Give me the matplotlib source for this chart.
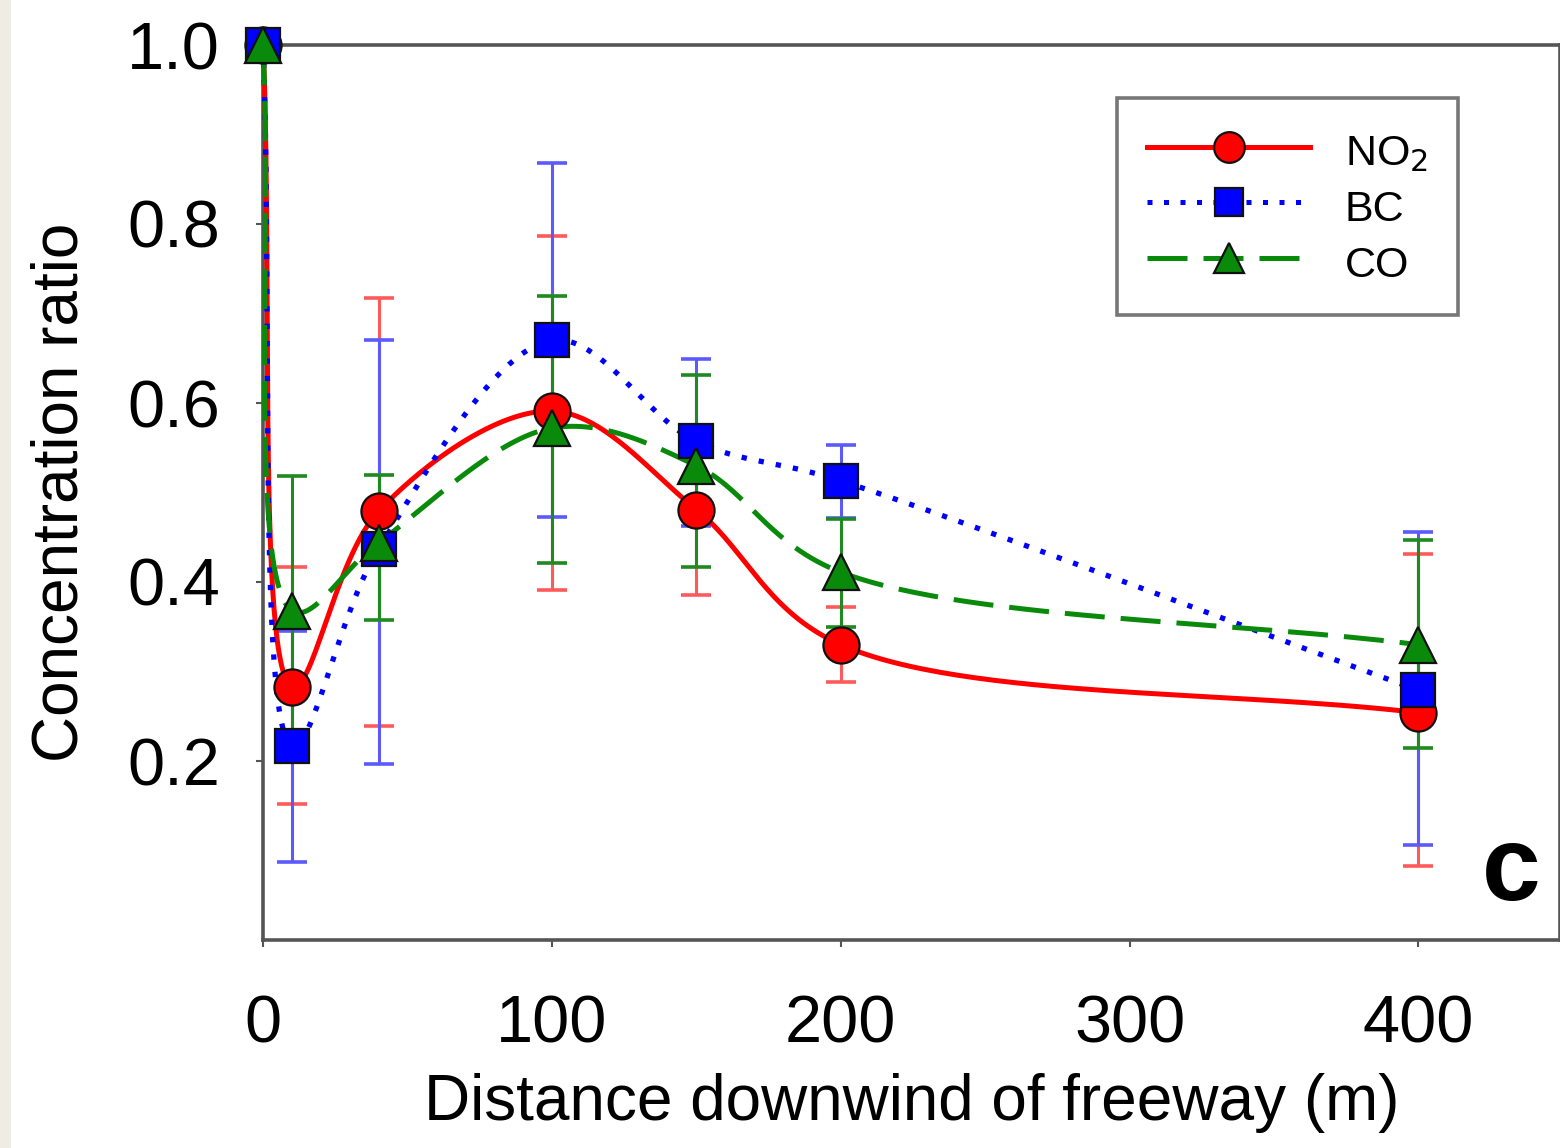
import numpy as np
import matplotlib
matplotlib.use("Agg")
import matplotlib.pyplot as plt
from matplotlib.patches import Rectangle

plt.rcParams['font.family'] = ['Liberation Sans', 'DejaVu Sans']

# ---- data ----
distance = [0, 10, 40, 100, 150, 200, 400]

no2 = [1.0, 0.283, 0.479, 0.591, 0.481, 0.330, 0.254]
no2_hi = [1.0, 0.417, 0.717, 0.787, 0.575, 0.372, 0.431]
no2_lo = [1.0, 0.152, 0.239, 0.391, 0.386, 0.288, 0.083]

bc = [1.0, 0.217, 0.437, 0.670, 0.557, 0.513, 0.279]
bc_hi = [1.0, 0.345, 0.670, 0.868, 0.649, 0.553, 0.456]
bc_lo = [1.0, 0.087, 0.197, 0.473, 0.463, 0.472, 0.106]

co = [1.0, 0.368, 0.444, 0.572, 0.530, 0.411, 0.330]
co_hi = [1.0, 0.518, 0.520, 0.720, 0.631, 0.470, 0.447]
co_lo = [1.0, 0.212, 0.358, 0.421, 0.417, 0.350, 0.214]

xticks = [0, 100, 200, 300, 400]
yticks = [0.2, 0.4, 0.6, 0.8, 1.0]
ytick_labels = ["0.2", "0.4", "0.6", "0.8", "1.0"]

W, H = 1560, 1148
XLIM = (0, 449)
YLIM = (0, 1.0)
AX_RECT = [263 / W, 1 - 940 / H, 1 - 263 / W, (940 - 45) / H]


def smooth_path(x, y, alpha=0.45, n=60):
    """Centripetal Catmull-Rom curve through the measured points,
    computed in screen-proportional space so the shape follows the picture."""
    sx = (AX_RECT[2] * W) / (XLIM[1] - XLIM[0])
    sy = (AX_RECT[3] * H) / (YLIM[1] - YLIM[0])
    P = np.column_stack([np.asarray(x, float) * sx, np.asarray(y, float) * sy])
    P = np.vstack([2 * P[0] - P[1], P, 2 * P[-1] - P[-2]])
    out = []
    for i in range(1, len(P) - 2):
        p0, p1, p2, p3 = P[i - 1], P[i], P[i + 1], P[i + 2]
        t0 = 0.0
        t1 = t0 + np.linalg.norm(p1 - p0) ** alpha
        t2 = t1 + np.linalg.norm(p2 - p1) ** alpha
        t3 = t2 + np.linalg.norm(p3 - p2) ** alpha
        t = np.linspace(t1, t2, n)[:, None]
        a1 = (t1 - t) / (t1 - t0) * p0 + (t - t0) / (t1 - t0) * p1
        a2 = (t2 - t) / (t2 - t1) * p1 + (t - t1) / (t2 - t1) * p2
        a3 = (t3 - t) / (t3 - t2) * p2 + (t - t2) / (t3 - t2) * p3
        b1 = (t2 - t) / (t2 - t0) * a1 + (t - t0) / (t2 - t0) * a2
        b2 = (t3 - t) / (t3 - t1) * a2 + (t - t1) / (t3 - t1) * a3
        c = (t2 - t) / (t2 - t1) * b1 + (t - t1) / (t2 - t1) * b2
        out.append(c if i == 1 else c[1:])
    C = np.vstack(out)
    return C[:, 0] / sx, C[:, 1] / sy


fig = plt.figure(figsize=(W / 100, H / 100), dpi=100)
fig.patches.append(Rectangle((0, 0), 11 / W, 1, transform=fig.transFigure,
                             facecolor='#efece3', edgecolor='none', zorder=0))

ax = fig.add_axes(AX_RECT)
ax.set_xlim(*XLIM)
ax.set_ylim(*YLIM)

series = [
    (no2, no2_lo, no2_hi, '#ff0000', '#ff5a5a', 'o', '-', r'NO$_2$', 26),
    (bc, bc_lo, bc_hi, '#0000ff', '#5a5aff', 's', (0, (1, 2.3)), 'BC', 24),
    (co, co_lo, co_hi, '#0a8a0a', '#1f8a1f', '^', (0, (8, 3.2)), 'CO', 26),
]

handles = []
for i, (vals, lo, hi, col, ecol, mk, ls, lab, ms) in enumerate(series):
    v = np.array(vals)
    yerr = np.vstack([v - np.array(lo), np.array(hi) - v])
    ax.errorbar(distance, vals, yerr=yerr, fmt='none', ecolor=ecol,
                elinewidth=2.2, capsize=11, capthick=2.6, zorder=2 + i * 0.1,
                clip_on=False)
    xs, ys = smooth_path(distance, vals)
    ax.plot(xs, ys, color=col, lw=3.6 if mk != 's' else 3.8, linestyle=ls,
            zorder=3 + i * 0.1, clip_on=False, solid_capstyle='butt')
    ax.plot(distance, vals, linestyle='none', marker=mk, markersize=ms,
            markerfacecolor=col, markeredgecolor='#111111',
            markeredgewidth=1.6, zorder=4 + i * 0.1, clip_on=False)
    h, = ax.plot([], [], color=col, lw=3.6, linestyle=ls, marker=mk,
                 markersize=ms * 0.85, markerfacecolor=col,
                 markeredgecolor='#111111', markeredgewidth=1.6, label=lab)
    handles.append(h)

for s in ['left', 'bottom', 'top', 'right']:
    ax.spines[s].set_color('#555555')
    ax.spines[s].set_linewidth(2.6)

ax.set_xticks(xticks)
ax.set_xticklabels([str(t) for t in xticks])
ax.set_yticks(yticks)
ax.set_yticklabels(ytick_labels)
ax.tick_params(axis='both', direction='out', length=5, width=1.5,
               color='#555555', labelsize=48)
ax.tick_params(axis='x', pad=34)
ax.tick_params(axis='y', pad=26)

ax.set_xlabel('Distance downwind of freeway (m)', fontsize=46, labelpad=12)
ax.set_ylabel('Concentration ratio', fontsize=46, labelpad=26)

leg = ax.legend(handles=handles, loc='upper left',
                bbox_to_anchor=((1117 - 263) / (W - 263), 1 - (98 - 45) / (940 - 45)),
                fontsize=31, frameon=True, fancybox=False, handlelength=3.8,
                handleheight=1.3, handletextpad=0.8, labelspacing=0.2,
                borderpad=0.69, borderaxespad=0)
leg.get_frame().set_edgecolor('#555555')
leg.get_frame().set_linewidth(2.6)

ax.text(0.985, 0.045, 'c', transform=ax.transAxes, fontsize=76,
        fontweight='bold', ha='right', va='baseline')

fig.savefig('out.png', dpi=100)
